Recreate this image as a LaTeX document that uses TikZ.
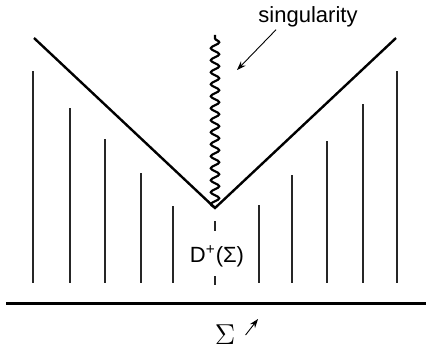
\documentclass[tikz,border=0pt]{standalone}
\usepackage{fontspec}
\setsansfont{Liberation Sans}
\usetikzlibrary{positioning, arrows.meta, decorations.pathmorphing}

\begin{document}
\begin{tikzpicture}[
    x=0.5pt, y=-0.5pt,
    cone/.style={
        line width=1.2pt,
        draw=black
    },
    hatch/.style={
        line width=0.6pt,
        draw=black!85
    },
    surface/.style={
        line width=1.5pt,
        draw=black
    },
    singular/.style={
        line width=1.1pt,
        decorate,
        decoration={snake, segment length=6pt, amplitude=2.1pt}
    },
    pointer/.style={
        -{Stealth[length=4.5pt, width=3.2pt]},
        line width=0.45pt
    },
    label/.style={
        font=\sffamily\fontsize{11}{13}\selectfont,
        inner sep=1pt
    }
]
\useasboundingbox (0,0) rectangle (426,353);

% Kegel und Singularitaet
\coordinate (tip) at (215,208);
\coordinate (leftend) at (34,38);
\coordinate (rightend) at (396,38);
\coordinate (singtop) at (215,35);

\draw[cone] (leftend) -- (tip) -- (rightend);
\draw[singular] (tip) -- (singtop);

% Schraffur
\foreach \x/\t in {33/71, 70/108, 105/139, 141/173, 173/206,
                   259/205, 292/175, 327/141, 363/104, 397/71}
    \draw[hatch] (\x,\t) -- (\x,283);

% Mittellinie
\draw[hatch] (215,221) -- (215,231);
\draw[hatch] (215,276) -- (215,285);

% Flaeche Sigma
\coordinate (surfl) at (6,303);
\coordinate (surfr) at (426,303);
\draw[surface] (surfl) -- (surfr);

% Beschriftungen
\node[label] (dplus) at (217,256) {D\textsuperscript{+}(Σ)};
\node[label] (singlabel) at (308,17) {singularity};
\node[font=\fontsize{14}{16}\selectfont, inner sep=1pt] (sigma) at (225,335) {$\Sigma$};

\coordinate (singhead) at (237,70);
\coordinate (sigmahead) at (258,319);
\draw[pointer] (singlabel.south west) ++(20,0) -- (singhead);
\draw[pointer] (sigma.east) ++(8,0) -- (sigmahead);

\end{tikzpicture}
\end{document}
